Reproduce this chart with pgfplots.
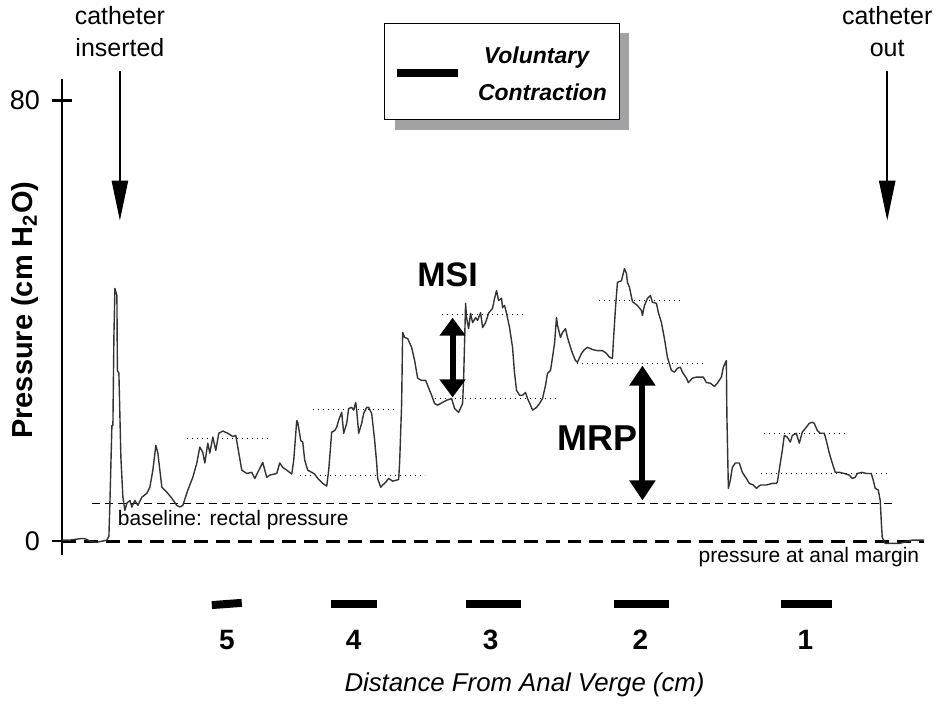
\documentclass[border=0pt]{standalone}
\usepackage{pgfplots}
\pgfplotsset{compat=1.18}
\usepackage{fontspec}
\setmainfont{Liberation Sans}
\usetikzlibrary{arrows.meta}

\definecolor{trace}{HTML}{333333}
\definecolor{shadow}{HTML}{A2A2A4}

\begin{document}
\begin{tikzpicture}
\begin{axis}[
  scale only axis, width=434pt, height=238.5pt,
  xmin=62, xmax=930, ymin=-2.54, ymax=84.0,
  axis x line=none, axis y line*=left,
  axis line style={line width=1.2pt},
  xtick=\empty, ytick={0,80},
  tick align=center, major tick length=10pt,
  tick style={line width=1.2pt, black},
  /pgf/number format/assume math mode=true,
  yticklabel style={font=\fontsize{13.5}{15}\selectfont, xshift=-2.5pt},
  ylabel={\textbf{Pressure (cm H\textsubscript{2}O)}},
  ylabel style={at={(rel axis cs:-0.0426,0.514)}, anchor=center,
    font=\fontsize{14.5}{16}\selectfont},
  clip=false,
]
% whole picture frame (939 x 702 px)
\path (axis cs:0,-29.21) rectangle (axis cs:939,98.14);

% zero line and rectal baseline
\addplot[black, line width=1.5pt, dash pattern=on 7pt off 4pt] coordinates {(62,0) (925,0)};
\addplot[black, line width=0.6pt, dash pattern=on 4pt off 2.5pt] coordinates {(92,6.9) (895,6.9)};

% plateau reference levels
\addplot[black, line width=0.5pt, dotted] coordinates {(187,18.7) (270,18.7)};
\addplot[black, line width=0.5pt, dotted] coordinates {(300,12.0) (425,12.0)};
\addplot[black, line width=0.5pt, dotted] coordinates {(313,23.9) (397,23.9)};
\addplot[black, line width=0.5pt, dotted] coordinates {(442,41.2) (523,41.2)};
\addplot[black, line width=0.5pt, dotted] coordinates {(435,25.9) (557,25.9)};
\addplot[black, line width=0.5pt, dotted] coordinates {(600,43.7) (682,43.7)};
\addplot[black, line width=0.5pt, dotted] coordinates {(578,32.3) (707,32.3)};
\addplot[black, line width=0.5pt, dotted] coordinates {(765,19.6) (848,19.6)};
\addplot[black, line width=0.5pt, dotted] coordinates {(762,12.3) (888,12.3)};

% pressure trace
\addplot[trace, line width=0.7pt, line join=round] coordinates {
(62,0.2) (70,0.2) (78,0.4) (82,0.5) (86,0.4) (90,0.0) (96,-0.2) (102,0.0) (107,0.2)
(109,0.9) (110,6.9) (112,21.0) (113,21.0) (114,37.0) (115,45.9) (117,44.6) (117.5,31.0)
(119,30.5) (121,15.2) (123,8.0) (125,5.6) (127,6.9) (130,7.4) (132,6.2) (135,7.4)
(138,6.5) (142,8.0) (147,8.7) (150,9.8) (153,12.9) (156,17.4) (158,16.0) (160,12.9)
(162,9.8) (167,8.9) (172,7.8) (177,6.5) (180,6.2) (183,6.5) (188,9.3) (193,11.6)
(197,14.2) (200,17.1) (203,16.1) (205,14.2) (208,17.8) (210,16.0) (213,18.9) (216,16.5)
(219,19.6) (223,20.0) (228,19.6) (233,19.0) (236,19.2) (238,17.1) (242,12.9) (247,12.3)
(252,12.5) (255,11.4) (258,12.5) (263,14.3) (267,11.6) (270,12.0) (277,12.3) (280,14.2)
(283,13.4) (287,12.9) (292,12.2) (294,14.7) (297,21.9) (298,21.6) (301,18.3) (303,18.0)
(305,14.7) (308,12.9) (312,12.5) (315,12.2) (318,11.4) (323,10.5) (327,10.0) (329,12.9)
(332,19.8) (335,20.1) (337,20.7) (339,22.0) (342,23.4) (344,19.6) (347,21.4) (349,24.1)
(352,24.3) (354,23.8) (356,25.2) (357,23.8) (359,19.6) (362,21.4) (364,23.2) (367,24.3)
(369,24.3) (372,23.2) (375,18.3) (377,14.2) (378,11.4) (381,9.8) (383,10.2) (386,10.7)
(389,11.4) (393,10.9) (397,11.1) (399,11.2) (400,14.3) (402,25.0) (403,37.9) (405,37.0)
(408,36.8) (412,35.2) (415,32.8) (418,29.6) (422,29.2) (426,29.2) (428,28.3) (432,26.5)
(435,25.0) (438,24.7) (443,25.2) (447,25.6) (452,25.9) (455,24.1) (459,23.4) (463,25.0)
(464,29.2) (466,43.2) (467,40.6) (469,38.6) (471,41.4) (473,39.7) (476,40.6) (478,40.1)
(481,41.5) (483,38.8) (486,39.7) (489,41.4) (493,42.3) (495,44.1) (497,45.5) (499,43.7)
(502,44.1) (503,42.4) (505,42.8) (507,41.4) (510,38.8) (513,35.2) (515,30.5) (517,27.4)
(520,26.5) (523,26.5) (526,27.0) (528,25.9) (531,24.7) (533,23.8) (537,24.3) (540,25.0)
(543,25.9) (546,28.3) (548,30.5) (551,31.0) (553,33.4) (555,35.9) (557,40.6) (558,39.2)
(561,37.0) (563,37.9) (566,38.6) (568,37.0) (571,35.2) (573,34.1) (576,32.8) (578,32.5)
(582,34.1) (585,34.8) (588,35.2) (593,34.8) (598,34.6) (603,34.6) (607,34.1) (610,33.4)
(613,33.2) (614,36.5) (616,42.3) (618,47.0) (622,47.3) (625,49.5) (627,48.6) (628,47.0)
(630,46.1) (633,43.5) (638,42.8) (642,41.9) (643,41.0) (645,42.8) (648,44.1) (651,44.6)
(653,43.4) (657,43.2) (659,41.5) (662,39.7) (665,36.8) (668,33.4) (672,31.0) (675,30.7)
(678,31.4) (681,31.6) (683,30.7) (687,29.6) (689,28.8) (693,29.6) (697,29.8) (701,29.8)
(704,29.8) (707,28.8) (711,28.7) (715,28.1) (718,28.7) (722,29.8) (724,31.6) (727,32.8)
(727.5,23.2) (729,9.6) (731,11.1) (733,13.4) (736,14.2) (740,14.2) (743,12.5) (747,11.4)
(750,10.5) (754,10.2) (757,9.6) (761,10.2) (767,10.2) (773,10.5) (777,10.5) (778,10.7)
(781,14.2) (783,16.5) (785,19.2) (788,18.9) (791,18.0) (793,19.2) (797,19.6) (800,17.8)
(803,19.8) (807,20.7) (810,21.4) (813,21.6) (815,21.4) (818,20.1) (821,19.6) (825,19.6)
(827,18.3) (830,16.0) (833,14.2) (836,12.5) (840,12.5) (845,12.3) (850,12.0) (853,11.4)
(856,11.6) (858,12.3) (863,12.5) (867,12.3) (872,12.3) (874,11.1) (876,9.6) (879,9.3)
(881,7.4) (882,3.8) (883,0.7) (886,-0.4) (890,-0.4) (895,-0.4) (900,-0.4) (905,-0.2)
(908,0.0) (913,0.2) (918,0.2) (925,0.2)
};

% voluntary contraction periods
\addplot[black, line width=4pt] coordinates {(212,-11.6) (242,-11.2)};
\addplot[black, line width=4pt] coordinates {(331,-11.4) (377,-11.4)};
\addplot[black, line width=4pt] coordinates {(466,-11.4) (521,-11.4)};
\addplot[black, line width=4pt] coordinates {(615,-11.4) (670,-11.4)};
\addplot[black, line width=4pt] coordinates {(782,-11.4) (833,-11.4)};

% station labels and axis title
\begin{scope}[font=\fontsize{14}{16}\selectfont\bfseries]
\node at (axis cs:227,-17.96) {5};
\node at (axis cs:354,-17.96) {4};
\node at (axis cs:491,-17.96) {3};
\node at (axis cs:641,-17.96) {2};
\node at (axis cs:806,-17.96) {1};
\end{scope}
\node[font=\fontsize{12.9}{15}\selectfont\itshape] at (axis cs:525,-26.1) {Distance From Anal Verge (cm)};

% annotations on the trace
\node[anchor=west, font=\fontsize{10.5}{12}\selectfont] at (axis cs:111,3.8) {baseline: rectal pressure};
\node[anchor=east, font=\fontsize{10.5}{12}\selectfont] at (axis cs:927,-2.9) {pressure at anal margin};
\node[font=\fontsize{17}{20}\selectfont\bfseries] at (axis cs:448,48.3) {MSI};
\node[font=\fontsize{18}{21}\selectfont\bfseries] at (axis cs:598,18.7) {MRP};
\draw[line width=3pt, {Triangle[width=12.5pt,length=9pt]}-{Triangle[width=12.5pt,length=9pt]}]
  (axis cs:453,40.6) -- (axis cs:453,26.1);
\draw[line width=3pt, {Triangle[width=12.5pt,length=10pt]}-{Triangle[width=12.5pt,length=10pt]}]
  (axis cs:643,31.9) -- (axis cs:643,7.4);

% catheter markers
\node[align=center, font=\fontsize{12.5}{16}\selectfont] at (axis cs:120,92.5) {catheter\\inserted};
\node[align=center, font=\fontsize{12.5}{16}\selectfont] at (axis cs:888,92.5) {catheter\\out};
\draw[line width=1.25pt, -{Triangle[width=8pt,length=20pt]}] (axis cs:120,85.4) -- (axis cs:120,58.2);
\draw[line width=1.25pt, -{Triangle[width=8pt,length=20pt]}] (axis cs:888,85.4) -- (axis cs:888,58.2);

% legend box with drop shadow
\fill[shadow] (axis cs:395,92.2) rectangle (axis cs:630,74.7);
\draw[fill=white, line width=0.75pt] (axis cs:385,94.0) rectangle (axis cs:620,76.6);
\draw[line width=4pt] (axis cs:397,85.1) -- (axis cs:458,85.1);
\node[font=\fontsize{11.5}{13}\selectfont\bfseries\itshape] at (axis cs:537,87.8) {Voluntary};
\node[font=\fontsize{11.5}{13}\selectfont\bfseries\itshape] at (axis cs:543,81.5) {Contraction};
\end{axis}
\end{tikzpicture}
\end{document}
